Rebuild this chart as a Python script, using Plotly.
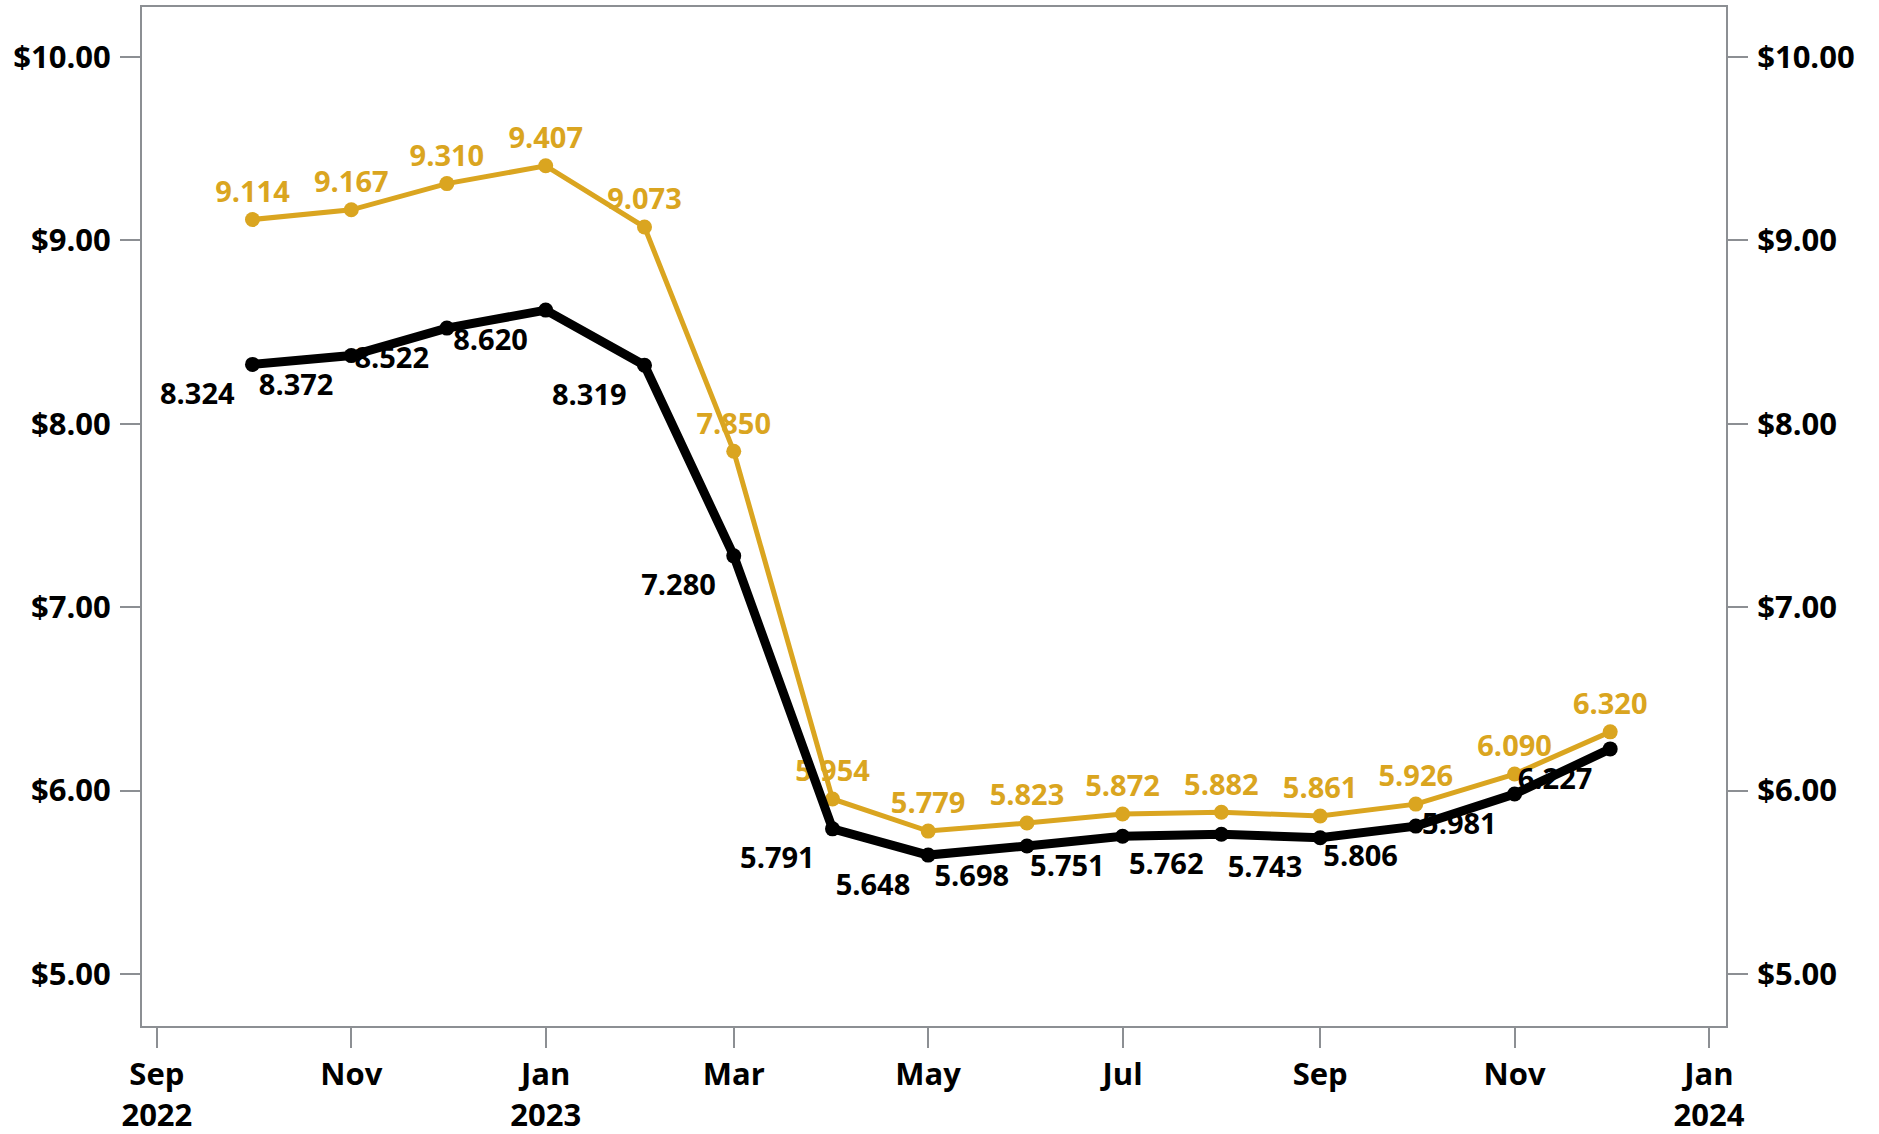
import plotly.graph_objects as go

months = ["2022-10-01", "2022-11-01", "2022-12-01", "2023-01-01", "2023-02-01",
          "2023-03-01", "2023-04-01", "2023-05-01", "2023-06-01", "2023-07-01",
          "2023-08-01", "2023-09-01", "2023-10-01", "2023-11-01", "2023-12-01"]
gold_values = [9.114, 9.167, 9.310, 9.407, 9.073, 7.850, 5.954, 5.779, 5.823,
               5.872, 5.882, 5.861, 5.926, 6.090, 6.320]
black_values = [8.324, 8.372, 8.522, 8.620, 8.319, 7.280, 5.791, 5.648, 5.698,
                5.751, 5.762, 5.743, 5.806, 5.981, 6.227]
y_ticks = [5, 6, 7, 8, 9, 10]
y_tick_labels = ["$5.00", "$6.00", "$7.00", "$8.00", "$9.00", "$10.00"]
x_ticks = ["2022-09-01", "2022-11-01", "2023-01-01", "2023-03-01", "2023-05-01",
           "2023-07-01", "2023-09-01", "2023-11-01", "2024-01-01"]
x_tick_labels = ["Sep<br>2022", "Nov", "Jan<br>2023", "Mar", "May", "Jul", "Sep",
                 "Nov", "Jan<br>2024"]

GOLD = "#DAA520"
BLACK = "#000000"
AXIS = "#8C8F93"
FONT = "Open Sans"

fig = go.Figure()
fig.add_trace(go.Scatter(
    x=months, y=gold_values, mode="lines+markers+text",
    line=dict(color=GOLD, width=5), marker=dict(color=GOLD, size=15),
    text=[f"{v:.3f}" for v in gold_values], textposition="top center",
    textfont=dict(family=FONT, size=29, color=GOLD, weight="bold"),
    showlegend=False, cliponaxis=False,
))
fig.add_trace(go.Scatter(
    x=months, y=black_values, mode="lines+markers",
    line=dict(color=BLACK, width=9), marker=dict(color=BLACK, size=15),
    showlegend=False, cliponaxis=False,
))
# labels for the black series (transparent wider marker sets the label offset)
fig.add_trace(go.Scatter(
    x=months, y=black_values, mode="markers+text",
    marker=dict(color="rgba(0,0,0,0)", size=27),
    text=[f"{v:.3f}" for v in black_values], textposition="bottom left",
    textfont=dict(family=FONT, size=29, color=BLACK, weight="bold"),
    showlegend=False, cliponaxis=False, hoverinfo="skip",
))
# invisible trace so the right-hand axis is drawn
fig.add_trace(go.Scatter(
    x=months, y=gold_values, yaxis="y2", mode="lines",
    line=dict(color="rgba(0,0,0,0)"), showlegend=False, hoverinfo="skip",
))

yrange = [4.716, 10.273]
axis_font = dict(family=FONT, size=31, color="#000000", weight="bold")

common_y = dict(
    range=yrange, tickvals=y_ticks, ticktext=y_tick_labels,
    showline=True, linecolor=AXIS, linewidth=2,
    ticks="outside", ticklen=20, tickwidth=2, tickcolor=AXIS,
    showgrid=False, zeroline=False, tickfont=axis_font, automargin=False,
    ticklabelstandoff=3,
)

fig.update_layout(
    width=1879, height=1134,
    margin=dict(l=142, r=153, t=7, b=108),
    plot_bgcolor="white", paper_bgcolor="white",
    font=dict(family=FONT),
    xaxis=dict(
        type="date", range=["2022-08-27 08:00", "2024-01-06 08:00"],
        tickvals=x_ticks, ticktext=x_tick_labels,
        showline=True, linecolor=AXIS, linewidth=2, mirror=True,
        ticks="outside", ticklen=20, tickwidth=2, tickcolor=AXIS,
        showgrid=False, zeroline=False, tickfont=axis_font, automargin=False,
    ),
    yaxis=common_y,
    yaxis2=dict(overlaying="y", side="right", **common_y),
)

fig.write_html(
    "out.html",
    config={"displayModeBar": False},
    post_script="document.body.style.margin='0';document.body.style.overflow='hidden';",
)
